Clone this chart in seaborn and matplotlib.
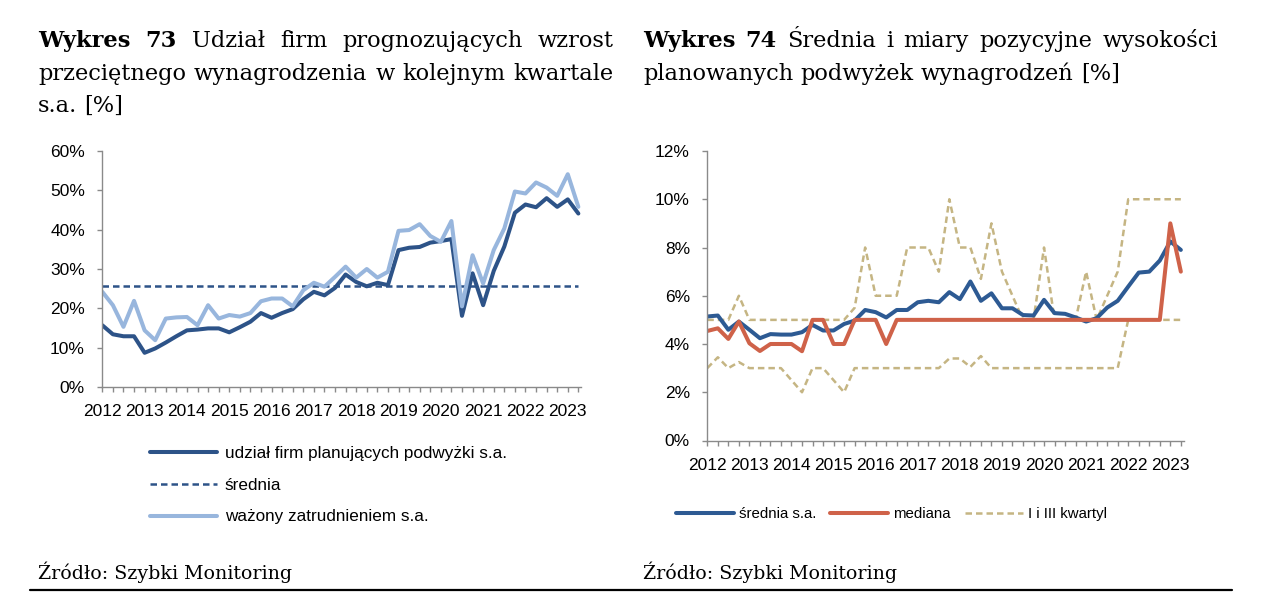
import numpy as np
import matplotlib
matplotlib.use("Agg")
import matplotlib.pyplot as plt
from matplotlib.ticker import FuncFormatter
from matplotlib.lines import Line2D
from matplotlib.transforms import IdentityTransform
import seaborn as sns

# --- data (quarterly, 2012Q1 - 2023Q2) ---
years = ["2012", "2013", "2014", "2015", "2016", "2017",
         "2018", "2019", "2020", "2021", "2022", "2023"]

# Wykres 73 [%]
udzial = [15.7, 13.4, 12.9, 12.9, 8.7, 9.8, 11.3, 12.9, 14.4, 14.6,
          14.9, 14.9, 13.9, 15.2, 16.6, 18.8, 17.6, 18.8, 19.8, 22.3,
          24.2, 23.3, 25.2, 28.6, 26.7, 25.6, 26.5, 25.9, 34.8, 35.4,
          35.6, 36.7, 37.1, 37.6, 18.1, 28.9, 20.8, 29.5, 35.7, 44.3,
          46.4, 45.7, 48.0, 45.8, 47.7, 44.1]
wazony = [24.2, 20.8, 15.3, 21.9, 14.4, 11.9, 17.4, 17.7, 17.8, 15.7,
          20.8, 17.4, 18.3, 17.9, 18.8, 21.8, 22.5, 22.5, 20.5, 24.6,
          26.5, 25.5, 28.0, 30.6, 27.8, 30.0, 27.8, 29.3, 39.7, 39.9,
          41.4, 38.4, 36.9, 42.2, 20.5, 33.5, 26.3, 34.8, 40.3, 49.7,
          49.2, 52.0, 50.7, 48.6, 54.1, 45.8]
srednia_udzial = 25.6

# Wykres 74 [%]
srednia = [5.14, 5.18, 4.59, 4.93, 4.59, 4.24, 4.41, 4.39, 4.39, 4.49,
           4.79, 4.56, 4.56, 4.83, 4.97, 5.41, 5.32, 5.10, 5.41, 5.41,
           5.73, 5.79, 5.73, 6.15, 5.86, 6.59, 5.79, 6.10, 5.48, 5.48,
           5.20, 5.18, 5.83, 5.28, 5.25, 5.10, 4.93, 5.07, 5.51, 5.79,
           6.38, 6.96, 7.00, 7.46, 8.25, 7.90]
mediana = [4.54, 4.65, 4.21, 4.93, 4.03, 3.71, 4.0, 4.0, 4.0, 3.7,
           5.0, 5.0, 4.0, 4.0, 5.0, 5.0, 5.0, 4.0, 5.0, 5.0,
           5.0, 5.0, 5.0, 5.0, 5.0, 5.0, 5.0, 5.0, 5.0, 5.0,
           5.0, 5.0, 5.0, 5.0, 5.0, 5.0, 5.0, 5.0, 5.0, 5.0,
           5.0, 5.0, 5.0, 5.0, 9.0, 7.0]
kwartyl_3 = [5.0, 5.0, 5.0, 6.0, 5.0, 5.0, 5.0, 5.0, 5.0, 5.0,
             5.0, 5.0, 5.0, 5.0, 5.5, 8.0, 6.0, 6.0, 6.0, 8.0,
             8.0, 8.0, 7.0, 10.0, 8.0, 8.0, 6.7, 9.0, 7.0, 6.0,
             5.0, 5.0, 8.0, 5.0, 5.0, 5.0, 7.0, 5.0, 6.0, 7.0,
             10.0, 10.0, 10.0, 10.0, 10.0, 10.0]
kwartyl_1 = [3.0, 3.45, 3.0, 3.25, 3.0, 3.0, 3.0, 3.0, 2.5, 2.0,
             3.0, 3.0, 2.5, 2.0, 3.0, 3.0, 3.0, 3.0, 3.0, 3.0,
             3.0, 3.0, 3.0, 3.4, 3.4, 3.05, 3.5, 3.0, 3.0, 3.0,
             3.0, 3.0, 3.0, 3.0, 3.0, 3.0, 3.0, 3.0, 3.0, 3.0,
             5.0, 5.0, 5.0, 5.0, 5.0, 5.0]

DARK = "#2d5388"
LIGHT = "#98b6dd"
BLUE = "#2d5a93"
RED = "#cf6249"
TAN = "#c5b583"
AXIS_GRAY = "#8a8a8a"

sns.set_style("ticks")
plt.rcParams["font.family"] = ["Liberation Sans", "DejaVu Sans"]
plt.rcParams["text.color"] = "black"
SERIF = ["DejaVu Serif"]

W, H = 1266, 608
fig = plt.figure(figsize=(W / 100, H / 100), dpi=100)


def fx(px):
    return px / W


def fy(py):
    return 1 - py / H


ax1 = fig.add_axes([fx(102.3), fy(387), fx(581) - fx(102.3), fy(151) - fy(387)])
ax2 = fig.add_axes([fx(707.3), fy(440.5), fx(1184) - fx(707.3), fy(151) - fy(440.5)])

q = np.arange(len(udzial))

# left chart
sns.lineplot(x=q, y=udzial, ax=ax1, color=DARK, linewidth=2.9,
             label="udział firm planujących podwyżki s.a.", legend=False)
h_udzial = ax1.lines[-1]
sns.lineplot(x=q, y=[srednia_udzial] * len(q), ax=ax1, color=DARK, linewidth=1.8,
             label="średnia", legend=False)
h_sred = ax1.lines[-1]
h_sred.set_dashes([2.6, 1.6])
sns.lineplot(x=q, y=wazony, ax=ax1, color=LIGHT, linewidth=2.9,
             label="ważony zatrudnieniem s.a.", legend=False)
h_waz = ax1.lines[-1]

# right chart
sns.lineplot(x=q, y=kwartyl_1, ax=ax2, color=TAN, linewidth=1.8,
             label="I i III kwartyl", legend=False)
h_kw = ax2.lines[-1]
h_kw.set_dashes([2.6, 1.6])
sns.lineplot(x=q, y=kwartyl_3, ax=ax2, color=TAN, linewidth=1.8, legend=False)
ax2.lines[-1].set_dashes([2.6, 1.6])
sns.lineplot(x=q, y=srednia, ax=ax2, color=BLUE, linewidth=2.9,
             label="średnia s.a.", legend=False)
h_sr = ax2.lines[-1]
sns.lineplot(x=q, y=mediana, ax=ax2, color=RED, linewidth=2.9,
             label="mediana", legend=False)
h_med = ax2.lines[-1]

for ax, ymax, ystep, xmax in [(ax1, 60, 10, 45.25), (ax2, 12, 2, 45.3)]:
    ax.set_xlim(0, xmax)
    ax.set_ylim(0, ymax)
    ax.set_yticks(np.arange(0, ymax + 0.1, ystep))
    ax.yaxis.set_major_formatter(FuncFormatter(lambda v, p: f"{v:.0f}%"))
    ax.set_xticks(np.arange(0, len(q), 4))
    ax.set_xticklabels(years)
    ax.set_xticks(q, minor=True)
    ax.set_xlabel("")
    ax.set_ylabel("")
    sns.despine(ax=ax)
    for s in ["left", "bottom"]:
        ax.spines[s].set_color(AXIS_GRAY)
        ax.spines[s].set_linewidth(1.0)
    ax.tick_params(axis="both", which="both", color=AXIS_GRAY, width=1.0,
                   length=3.5, labelsize=12.5, labelcolor="black")
    ax.tick_params(axis="x", which="both", pad=9)
    ax.tick_params(axis="y", pad=9)
    ax.patch.set_alpha(0)

# legends
fig.legend(handles=[h_udzial, h_sred, h_waz],
           labels=[h.get_label() for h in [h_udzial, h_sred, h_waz]],
           loc="upper left", bbox_to_anchor=(fx(150), fy(446)),
           frameon=False, fontsize=12.3, handlelength=3.95, handletextpad=0.42,
           labelspacing=0.98, borderpad=0, borderaxespad=0)
fig.legend(handles=[h_sr, h_med, h_kw],
           labels=["średnia s.a.", "mediana", "I i III kwartyl"],
           loc="center left", bbox_to_anchor=(fx(676), fy(514)), ncol=3,
           frameon=False, fontsize=10.8, handlelength=3.85, handletextpad=0.34,
           columnspacing=0.95, borderpad=0, borderaxespad=0)

# titles (justified like in the report)
renderer = fig.canvas.get_renderer()
TSIZE = 16.2


def text_line(words, x0, x1, y_top, justify=True, size=TSIZE):
    arts = []
    for w, bold in words:
        t = fig.text(0, 0, w, fontsize=size, family=SERIF, color="black",
                     fontweight="bold" if bold else "normal",
                     va="baseline", ha="left", transform=IdentityTransform())
        arts.append(t)
    widths = [t.get_window_extent(renderer).width for t in arts]
    sp = size * 0.32 * 100 / 72
    gap = sp
    if justify and len(arts) > 1:
        gap = max((x1 - x0 - sum(widths)) / (len(arts) - 1), sp * 0.5)
    x = x0
    for t, w in zip(arts, widths):
        t.set_position((x, H - y_top))
        x += w + gap


text_line([("Wykres", True), ("73", True), ("Udział", False), ("firm", False),
           ("prognozujących", False), ("wzrost", False)], 38, 614, 47)
text_line([("przeciętnego", False), ("wynagrodzenia", False), ("w", False),
           ("kolejnym", False), ("kwartale", False)], 38, 614, 80)
text_line([("s.a.", False), ("[%]", False)], 38, 614, 112, justify=False)
text_line([("Wykres", True), ("74", True), ("Średnia", False), ("i", False),
           ("miary", False), ("pozycyjne", False), ("wysokości", False)], 643, 1218, 47)
text_line([("planowanych", False), ("podwyżek", False), ("wynagrodzeń", False),
           ("[%]", False)], 643, 1218, 80, justify=False)

# source lines and bottom rule
fig.text(fx(38), fy(579), "Źródło: Szybki Monitoring", fontsize=13.7, family=SERIF,
         va="baseline", ha="left", color="black")
fig.text(fx(643), fy(579), "Źródło: Szybki Monitoring", fontsize=13.7, family=SERIF,
         va="baseline", ha="left", color="black")
fig.add_artist(Line2D([fx(30), fx(1232)], [fy(589.5), fy(589.5)], color="black", lw=1.6))

fig.savefig("out.png", dpi=100, facecolor="white")
